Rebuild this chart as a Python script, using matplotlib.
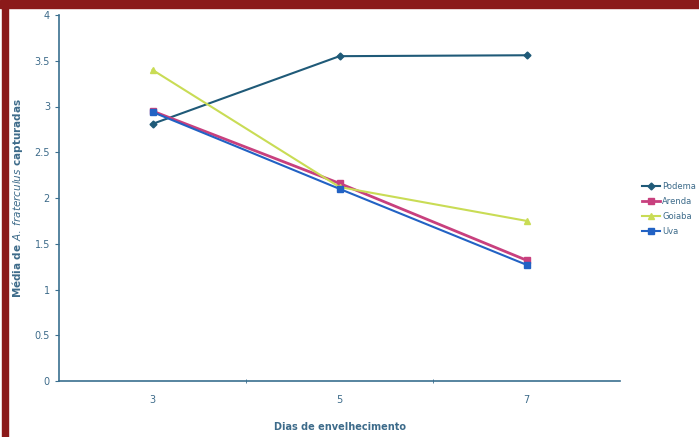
import numpy as np
import matplotlib.pyplot as plt
from matplotlib.patches import Rectangle

dias = [3, 5, 7]
podema = [2.81, 3.55, 3.56]
arenda = [2.95, 2.16, 1.32]
goiaba = [3.40, 2.12, 1.75]
uva = [2.94, 2.10, 1.27]

W, H = 699, 437
fig = plt.figure(figsize=(W/100, H/100), dpi=100, facecolor='white')
ax = fig.add_axes([59/W, (H-381)/H, (620-59)/W, (381-15)/H])

txt = '#3d6b8a'
ax.plot(dias, podema, color='#1f5a78', marker='D', ms=3.5, lw=1.5, label='Podema')
ax.plot(dias, arenda, color='#c8407e', marker='s', ms=5, lw=2.0, label='Arenda')
ax.plot(dias, goiaba, color='#c9dc55', marker='^', ms=4, lw=1.5, label='Goiaba')
ax.plot(dias, uva, color='#2262c4', marker='s', ms=4, lw=1.5, label='Uva')

ax.set_xlim(2, 8)
ax.set_ylim(0, 4)
ax.set_xticks(dias)
ax.set_xticks([4, 6], minor=True)
ax.set_yticks(np.arange(0, 4.01, 0.5))
ax.set_yticklabels(['0', '0.5', '1', '1.5', '2', '2.5', '3', '3.5', '4'])
ax.tick_params(axis='x', which='major', length=0, pad=10, labelsize=7, colors=txt)
ax.tick_params(axis='x', which='minor', length=3, direction='inout', color='#3a6f8f')
ax.tick_params(axis='y', length=3, direction='out', labelsize=7, colors=txt, color='#3a6f8f')
for s in ['top', 'right']:
    ax.spines[s].set_visible(False)
for s in ['left', 'bottom']:
    ax.spines[s].set_color('#3a6f8f')
    ax.spines[s].set_linewidth(1.2)

ax.set_xlabel('Dias de envelhecimento', fontsize=7, fontweight='bold', color=txt, labelpad=12)
ax.set_ylabel(r'Média de $\mathbf{\it{A.\ fraterculus}}$ capturadas', fontsize=7.5,
              fontweight='bold', color=txt)
ax.yaxis.set_label_coords((25-59)/561, 0.5)

leg = fig.legend(loc='upper left', bbox_to_anchor=(634/W, 1-174/H), frameon=False,
                 fontsize=6, handlelength=2.2, labelspacing=0.75, handletextpad=0.3,
                 labelcolor=txt)

# moldura vermelha
fig.patches.append(Rectangle((0, 1-8/H), 1, 8/H, transform=fig.transFigure,
                             color='#8b1a1a', zorder=10))
fig.patches.append(Rectangle((2/W, 0), 6/W, 1, transform=fig.transFigure,
                             color='#8b1a1a', zorder=10))

fig.savefig('out.png', dpi=100, facecolor='white')
